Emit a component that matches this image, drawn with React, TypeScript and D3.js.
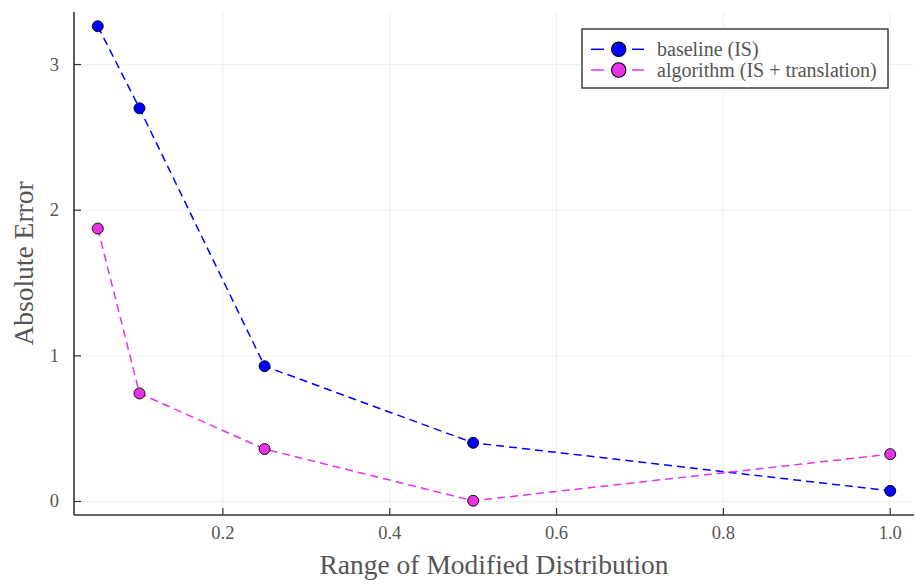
import React from "react";
import * as d3 from "d3";

const ranges = [0.05, 0.1, 0.25, 0.5, 1.0];
const baselineErr = [3.263, 2.7, 0.929, 0.403, 0.073];
const algorithmErr = [1.874, 0.742, 0.36, 0.005, 0.325];
const xTicks = [0.2, 0.4, 0.6, 0.8, 1.0];
const yTicks = [0, 1, 2, 3];
const seriesNames = ["baseline (IS)", "algorithm (IS + translation)"];

const W = 915;
const H = 584;
const margin = { left: 74, right: 1, top: 12, bottom: 69 };
const FONT = "'Liberation Serif', 'DejaVu Serif', serif";
const colors = ["#0000ff", "#e633e6"];

function padded(vals: number[]): [number, number] {
  const [lo, hi] = d3.extent(vals) as [number, number];
  const p = (hi - lo) * 0.03;
  return [lo - p, hi + p];
}

export default function App() {
  const x = d3
    .scaleLinear()
    .domain(padded(ranges))
    .range([margin.left, W - margin.right]);
  const y = d3
    .scaleLinear()
    .domain(padded([...baselineErr, ...algorithmErr]))
    .range([H - margin.bottom, margin.top]);

  const series = [baselineErr, algorithmErr];
  const line = d3
    .line<number>()
    .x((_, i) => x(ranges[i]))
    .y((d) => y(d));

  const x0 = margin.left;
  const y0 = H - margin.bottom;

  return (
    <svg
      width={W}
      height={H}
      style={{ position: "absolute", left: 0, top: 0, background: "#fff" }}
      fontFamily={FONT}
    >
      {/* grid */}
      {xTicks.map((t) => (
        <line key={"gx" + t} x1={x(t)} x2={x(t)} y1={margin.top} y2={y0} stroke="#000" strokeOpacity={0.1} strokeWidth={0.6} />
      ))}
      {yTicks.map((t) => (
        <line key={"gy" + t} x1={x0} x2={W - margin.right} y1={y(t)} y2={y(t)} stroke="#000" strokeOpacity={0.1} strokeWidth={0.6} />
      ))}

      {/* series */}
      {series.map((s, k) => (
        <path
          key={"l" + k}
          d={line(s) || ""}
          fill="none"
          stroke={colors[k]}
          strokeWidth={1.5}
          strokeDasharray="8 5"
        />
      ))}
      {series.map((s, k) =>
        s.map((v, i) => (
          <circle key={"p" + k + i} cx={x(ranges[i])} cy={y(v)} r={5.5} fill={colors[k]} stroke="#000" strokeWidth={0.9} />
        ))
      )}

      {/* axes */}
      <line x1={x0} x2={x0} y1={margin.top} y2={y0} stroke="#333" strokeWidth={1.6} />
      <line x1={x0} x2={W - margin.right} y1={y0} y2={y0} stroke="#333" strokeWidth={1.6} />
      {xTicks.map((t) => (
        <g key={"tx" + t}>
          <line x1={x(t)} x2={x(t)} y1={y0} y2={y0 - 7} stroke="#333" strokeWidth={1.2} />
          <text x={x(t)} y={y0 + 24} textAnchor="middle" fontSize={18.5} fill="#555">
            {t.toFixed(1)}
          </text>
        </g>
      ))}
      {yTicks.map((t) => (
        <g key={"ty" + t}>
          <line x1={x0} x2={x0 + 7} y1={y(t)} y2={y(t)} stroke="#333" strokeWidth={1.2} />
          <text x={x0 - 15} y={y(t) + 6} textAnchor="end" fontSize={18.5} fill="#555">
            {t}
          </text>
        </g>
      ))}

      {/* axis titles */}
      <text x={(x0 + W - margin.right) / 2} y={H - 10} textAnchor="middle" fontSize={27.5} fill="#555">
        Range of Modified Distribution
      </text>
      <text
        transform={`translate(33, ${(margin.top + y0) / 2}) rotate(-90)`}
        textAnchor="middle"
        fontSize={27.5}
        fill="#555"
      >
        Absolute Error
      </text>

      {/* legend */}
      <g transform="translate(582, 29)">
        <rect x={0} y={0} width={306} height={59} fill="#fff" stroke="#333" strokeWidth={1.4} />
        {seriesNames.map((name, k) => (
          <g key={"lg" + k} transform={`translate(0, ${20.3 + k * 20.7})`}>
            <line x1={9} x2={22} y1={0} y2={0} stroke={colors[k]} strokeWidth={1.5} />
            <line x1={50} x2={62} y1={0} y2={0} stroke={colors[k]} strokeWidth={1.5} />
            <circle cx={36.7} cy={0} r={7.2} fill={colors[k]} stroke="#000" strokeWidth={1.1} />
            <text x={75} y={6.5} fontSize={20} fill="#555">
              {name}
            </text>
          </g>
        ))}
      </g>
    </svg>
  );
}
